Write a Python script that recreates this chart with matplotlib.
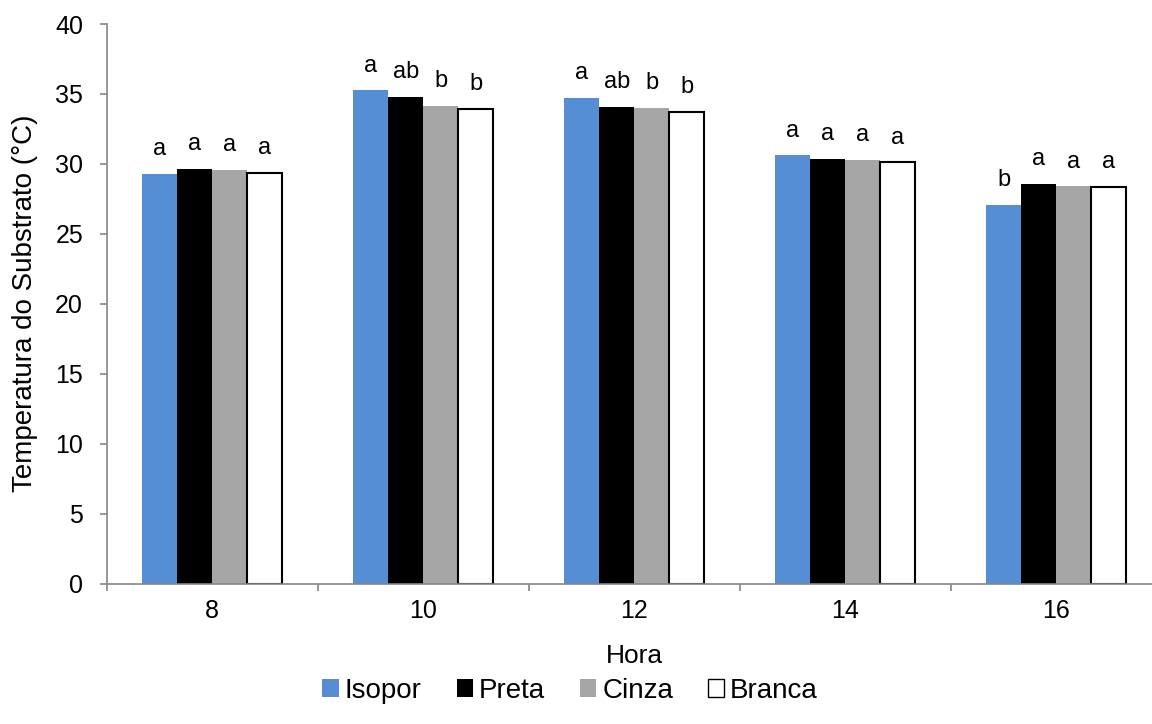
import matplotlib
matplotlib.use("Agg")
import matplotlib.pyplot as plt
from matplotlib.patches import Patch
import numpy as np

plt.rcParams['font.family'] = ['Liberation Sans', 'DejaVu Sans']

hours = ["8", "10", "12", "14", "16"]
series = ["Isopor", "Preta", "Cinza", "Branca"]
isopor = [29.3, 35.25, 34.7, 30.6, 27.05]
preta = [29.65, 34.8, 34.1, 30.35, 28.55]
cinza = [29.55, 34.15, 34.0, 30.3, 28.4]
branca = [29.35, 33.95, 33.7, 30.1, 28.35]
letters_isopor = ["a", "a", "a", "a", "b"]
letters_preta = ["a", "ab", "ab", "a", "a"]
letters_cinza = ["a", "b", "b", "a", "a"]
letters_branca = ["a", "b", "b", "a", "a"]

values = [isopor, preta, cinza, branca]
letters = [letters_isopor, letters_preta, letters_cinza, letters_branca]
faces = ["#558ED5", "#000000", "#A6A6A6", "#FFFFFF"]
edges = ["#558ED5", "#000000", "#A6A6A6", "#000000"]

fig = plt.figure(figsize=(11.52, 7.24), dpi=100)
ax = fig.add_axes([106.7/1152, 140.5/724, 1055/1152, 559.5/724])

x = np.arange(len(hours))
w = 0.166
for i, (vals, fc, ec, lab) in enumerate(zip(values, faces, edges, letters)):
    pos = x + (i - 1.5) * w
    ax.bar(pos, vals, width=w, color=fc, edgecolor=ec,
           linewidth=1.5 if i == 3 else 0, label=series[i], zorder=2)
    for px, v, t in zip(pos, vals, lab):
        ax.annotate(t, (px, v), xytext=(0, 13.5), textcoords="offset points",
                    ha="center", va="baseline", fontsize=17)

ax.set_xlim(-0.5, 4.5)
ax.set_ylim(0, 40)
ax.set_yticks(np.arange(0, 41, 5))
ax.set_xticks(np.arange(-0.5, 5, 1.0))
ax.set_xticklabels([])
ax.set_xticks(x, minor=True)
ax.set_xticklabels(hours, minor=True)
ax.tick_params(axis="x", which="minor", length=0, pad=11, labelsize=18)
ax.tick_params(axis="x", which="major", length=5, color="#868686", width=1.2)
ax.tick_params(axis="y", length=5, color="#868686", width=1.2, pad=12, labelsize=18)

for s in ["top", "right"]:
    ax.spines[s].set_visible(False)
for s in ["left", "bottom"]:
    ax.spines[s].set_color("#868686")
    ax.spines[s].set_linewidth(1.2)

ax.set_xlabel("Hora", fontsize=19, labelpad=15)
ax.set_ylabel("Temperatura do Substrato (°C)", fontsize=20, labelpad=12)

handles = [Patch(facecolor=fc, edgecolor=ec, linewidth=1.0 if i == 3 else 0)
           for i, (fc, ec) in enumerate(zip(faces, edges))]
fig.legend(handles, series, loc="center", bbox_to_anchor=(0.495, 0.046),
           ncol=4, frameon=False, fontsize=20, handlelength=0.58,
           handleheight=0.58, handletextpad=0.22, columnspacing=1.26)

fig.savefig("out.png", dpi=100)
